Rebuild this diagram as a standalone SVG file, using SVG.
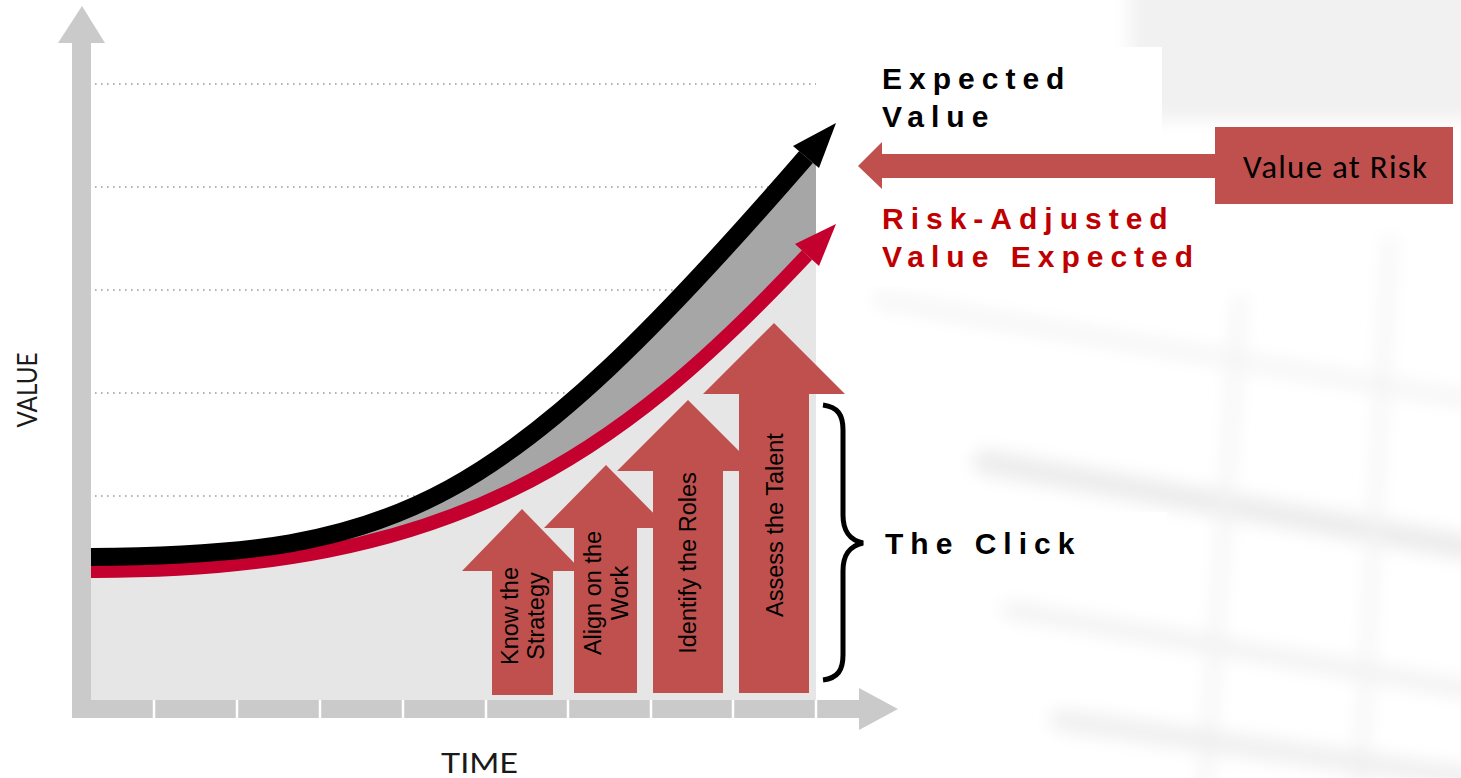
<svg xmlns="http://www.w3.org/2000/svg" width="1461" height="778" viewBox="0 0 1461 778">
  <defs>
    <style>
      .axis{fill:#cacaca}
      .tick{stroke:#ffffff;stroke-width:2.5}
      .grid{stroke:#9c9c9c;stroke-width:1.6;stroke-dasharray:1.6 4.4;fill:none}
      .step{fill:#c0504d}
      .steptxt{font-family:"Liberation Sans",Arial,sans-serif;font-size:23.5px;fill:#000;text-anchor:middle}
      .hdr{font-family:"Liberation Sans",Arial,sans-serif;font-weight:bold;font-size:30px;letter-spacing:7px}
      .axlbl{font-family:Lato,"Open Sans",sans-serif;font-size:27px;fill:#1a1a1a}
      .bg{fill:none;stroke-linecap:round}
    </style>
    <clipPath id="plotClip"><rect x="91" y="0" width="725" height="700"/></clipPath>
    <filter id="soft" x="-20%" y="-20%" width="140%" height="140%"><feGaussianBlur stdDeviation="9"/></filter>
  </defs>

  <!-- faint photographic backdrop -->
  <g id="backdrop">
    <rect x="0" y="0" width="1461" height="778" fill="#ffffff"/>
    <g filter="url(#soft)">
      <rect x="1130" y="-20" width="360" height="140" fill="#f1f1f1"/>
      <path class="bg" d="M985,462 L1470,548" stroke="#ebebeb" stroke-width="24"/>
      <path class="bg" d="M1010,610 L1470,690" stroke="#f1f1f1" stroke-width="16"/>
      <path class="bg" d="M1240,300 L1205,790" stroke="#f2f2f2" stroke-width="10"/>
      <path class="bg" d="M1390,240 L1360,790" stroke="#f3f3f3" stroke-width="10"/>
      <path class="bg" d="M880,300 L1470,400" stroke="#f4f4f4" stroke-width="14"/>
      <path class="bg" d="M1060,720 L1470,778" stroke="#eeeeee" stroke-width="20"/>
    </g>
  </g>

  <!-- label panels -->
  <g id="panels" fill="#ffffff">
    <rect x="862" y="47" width="300" height="98"/>
    <rect x="862" y="193" width="381" height="94"/>
    <rect x="863" y="512" width="304" height="58"/>
  </g>

  <!-- horizontal guide lines -->
  <g id="grid">
    <line class="grid" x1="95" y1="84" x2="816" y2="84"/>
    <line class="grid" x1="95" y1="187" x2="816" y2="187"/>
    <line class="grid" x1="95" y1="290" x2="816" y2="290"/>
    <line class="grid" x1="95" y1="393" x2="816" y2="393"/>
    <line class="grid" x1="95" y1="496" x2="816" y2="496"/>
  </g>

  <!-- filled regions under the curves -->
  <g id="areas" clip-path="url(#plotClip)">
    <path d="M91,557 C400,555 500,510 806,157 L840,118 L840,700 L91,700 Z" fill="#a6a6a6"/>
    <path d="M91,571 C450,572 615,460 807,255 L840,220 L840,700 L91,700 Z" fill="#e6e6e6"/>
  </g>

  <!-- axes -->
  <g id="axes">
    <rect class="axis" x="72" y="42" width="19" height="676"/>
    <polygon class="axis" points="58,43 82,6 105,43"/>
    <rect class="axis" x="72" y="700" width="788" height="18"/>
    <polygon class="axis" points="859,688 898,709 859,730"/>
    <g id="ticks">
      <line class="tick" x1="154" y1="700" x2="154" y2="722"/>
      <line class="tick" x1="237" y1="700" x2="237" y2="722"/>
      <line class="tick" x1="320" y1="700" x2="320" y2="722"/>
      <line class="tick" x1="403" y1="700" x2="403" y2="722"/>
      <line class="tick" x1="486" y1="700" x2="486" y2="722"/>
      <line class="tick" x1="568" y1="700" x2="568" y2="722"/>
      <line class="tick" x1="651" y1="700" x2="651" y2="722"/>
      <line class="tick" x1="733" y1="700" x2="733" y2="722"/>
      <line class="tick" x1="816" y1="700" x2="816" y2="722"/>
    </g>
    <text class="axlbl" x="441" y="773" textLength="77" lengthAdjust="spacingAndGlyphs">TIME</text>
    <text class="axlbl" transform="translate(37,390) rotate(-90)" text-anchor="middle" textLength="75" lengthAdjust="spacingAndGlyphs">VALUE</text>
  </g>

  <!-- growth curves -->
  <g id="connectors">
    <g id="risk-adjusted-curve">
      <path d="M91,571 C450,572 615,460 807,255" fill="none" stroke="#c4002f" stroke-width="14"/>
      <polygon points="795,244 836,224 819,266" fill="#c4002f"/>
    </g>
    <g id="expected-curve">
      <path d="M91,557 C400,555 500,510 806,157" fill="none" stroke="#000000" stroke-width="18"/>
      <polygon points="793,146 836,123 819,168" fill="#000000"/>
    </g>
    <g id="value-at-risk-arrow">
      <polygon class="step" points="882,154 1216,154 1216,178 882,178 882,189 858,166 882,142"/>
    </g>
    <path id="click-brace" d="M823,405 C838,407 843,415 843,430 L843,515 C843,532 850,540 863,543 C850,546 843,554 843,571 L843,655 C843,670 838,678 823,680" fill="none" stroke="#000" stroke-width="5"/>
  </g>

  <!-- step arrows -->
  <g id="step-know-strategy">
    <polygon class="step" points="492,695 492,571 462,571 522,509 582,571 553,571 553,695"/>
    <text class="steptxt" transform="translate(518,616) rotate(-90)">Know the</text>
    <text class="steptxt" transform="translate(544,616) rotate(-90)">Strategy</text>
  </g>
  <g id="step-align-work">
    <polygon class="step" points="574,693 574,528 544,528 606,465 668,528 637,528 637,693"/>
    <text class="steptxt" transform="translate(601,593) rotate(-90)">Align on the</text>
    <text class="steptxt" transform="translate(628,593) rotate(-90)">Work</text>
  </g>
  <g id="step-identify-roles">
    <polygon class="step" points="653,693 653,471 617,471 688,400 759,471 723,471 723,693"/>
    <text class="steptxt" transform="translate(696,563) rotate(-90)">Identify the Roles</text>
  </g>
  <g id="step-assess-talent">
    <polygon class="step" points="739,693 739,394 703,394 774,323 845,394 809,394 809,693"/>
    <text class="steptxt" transform="translate(783,525) rotate(-90)">Assess the Talent</text>
  </g>

  <!-- labels -->
  <g id="label-expected">
    <text class="hdr" x="882" y="89" fill="#000">Expected</text>
    <text class="hdr" x="882" y="127" fill="#000">Value</text>
  </g>
  <g id="label-risk-adjusted">
    <text class="hdr" x="882" y="229" fill="#c00000">Risk-Adjusted</text>
    <text class="hdr" x="882" y="267" fill="#c00000">Value Expected</text>
  </g>
  <g id="node-value-at-risk">
    <rect class="step" x="1215" y="127" width="238" height="77"/>
    <text x="1243" y="178" font-family="Carlito, Lato, 'Open Sans', sans-serif" font-size="33" fill="#000" textLength="184">Value at Risk</text>
  </g>
  <g id="label-click">
    <text class="hdr" x="885" y="554" fill="#000">The Click</text>
  </g>
</svg>
